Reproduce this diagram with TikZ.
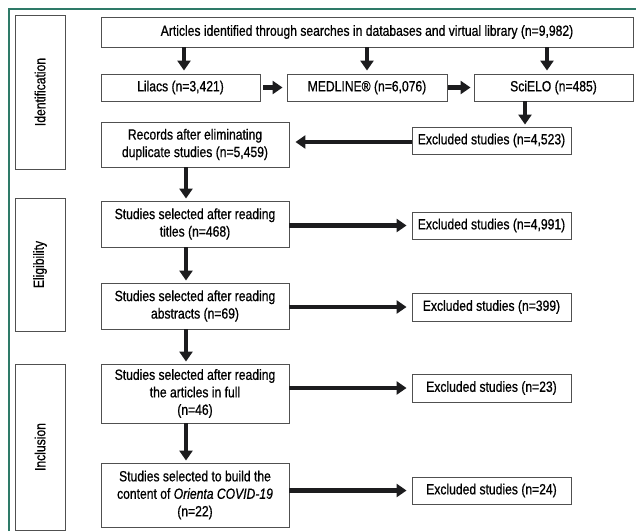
\documentclass[tikz,border=0pt]{standalone}
\usepackage{fontspec}
\setmainfont[FakeStretch=0.82, FakeBold=0.7]{Liberation Sans}
\usepackage{tikz}
\usetikzlibrary{arrows.meta, positioning, calc}
\definecolor{framegreen}{RGB}{46,122,104}
\definecolor{boxgray}{RGB}{80,80,80}
\definecolor{arrowblack}{RGB}{28,28,30}

\begin{document}
\begin{tikzpicture}[x=1pt, y=-1pt,
    box/.style={draw=boxgray, line width=0.9pt, fill=white, inner sep=2pt,
      align=center, font=\fontsize{14.8}{17.5}\selectfont},
    stage/.style={box, minimum width=50pt, rotate=90},
    arr/.style={draw=arrowblack, line width=4.5pt,
      -{Triangle[length=10pt, width=13pt]}},
  ]
\useasboundingbox (0,0) rectangle (636,531);
%frame
\draw[framegreen, line width=1.6pt] (9,531) -- (9,9) -- (636,9);

%stages
\node[stage, minimum width=154pt, minimum height=50pt] (id) at (40,92) {Identification};
\node[stage, minimum width=133pt, minimum height=50pt] (el) at (40,264.5) {Eligibility};
\node[stage, minimum width=166pt, minimum height=50pt] (inc) at (40,447) {Inclusion};

%identification
\node[box, minimum width=532pt, minimum height=30pt] (top) at (367,32)
  {Articles identified through searches in databases and virtual library (n=9,982)};
\node[box, minimum width=159pt, minimum height=27pt] (lil) at (180.5,87.5) {Lilacs (n=3,421)};
\node[box, minimum width=160pt, minimum height=27pt] (med) at (367,87.5) {MEDLINE® (n=6,076)};
\node[box, minimum width=159pt, minimum height=27pt] (sci) at (553.5,87.5) {SciELO (n=485)};
\node[box, minimum width=188pt, minimum height=45pt] (rec) at (195,144.5)
  {Records after eliminating\\duplicate studies (n=5,459)};
\node[box, minimum width=159pt, minimum height=27pt] (ex1) at (491.5,140.5) {Excluded studies (n=4,523)};

%eligibility
\node[box, minimum width=188pt, minimum height=46pt] (tit) at (195,224)
  {Studies selected after reading\\titles (n=468)};
\node[box, minimum width=159pt, minimum height=27pt] (ex2) at (491.5,225.5) {Excluded studies (n=4,991)};
\node[box, minimum width=188pt, minimum height=46pt] (abs) at (195,306)
  {Studies selected after reading\\abstracts (n=69)};
\node[box, minimum width=159pt, minimum height=28pt] (ex3) at (491.5,307) {Excluded studies (n=399)};

%inclusion
\node[box, minimum width=188pt, minimum height=59pt] (ful) at (195,393.5)
  {Studies selected after reading\\the articles in full\\(n=46)};
\node[box, minimum width=159pt, minimum height=28pt] (ex4) at (491.5,388) {Excluded studies (n=23)};
\node[box, minimum width=188pt, minimum height=64pt] (fin) at (195,495)
  {Studies selected to build the\\content of \textit{Orienta COVID-19}\\(n=22)};
\node[box, minimum width=159pt, minimum height=27pt] (ex5) at (491.5,490.5) {Excluded studies (n=24)};

%arrows
\draw[arr, shorten >=3pt] ([xshift=3.5pt]top.south -| lil.north) -- ([xshift=3.5pt]lil.north);
\draw[arr, shorten >=3pt] (top.south -| med.north) -- (med.north);
\draw[arr, shorten >=3pt] ([xshift=-6.5pt]top.south -| sci.north) -- ([xshift=-6.5pt]sci.north);
\draw[arr, shorten <=3pt, shorten >=4pt] (lil.east) -- (med.west);
\draw[arr, shorten <=1pt, shorten >=3pt] (med.east) -- (sci.west);
\draw[arr, shorten >=2pt] ([xshift=-28.5pt]sci.south) -- ([xshift=-28.5pt]sci.south |- ex1.north);
\draw[arr, shorten >=6pt] (ex1.west |- 0,142) -- (rec.east |- 0,142);
\draw[arr, shorten >=2pt] ([xshift=-9pt]rec.south) -- ([xshift=-9pt]tit.north);
\draw[arr, shorten >=2pt] ([xshift=-9pt]tit.south) -- ([xshift=-9pt]abs.north);
\draw[arr, shorten >=2pt] ([xshift=-9pt]abs.south) -- ([xshift=-9pt]ful.north);
\draw[arr, shorten >=2pt] ([xshift=-9pt]ful.south) -- ([xshift=-9pt]fin.north);
\draw[arr, shorten >=5pt] (tit.east |- ex2.west) -- (ex2.west);
\draw[arr, shorten >=5pt] (abs.east |- ex3.west) -- (ex3.west);
\draw[arr, shorten >=5pt] (ful.east |- ex4.west) -- (ex4.west);
\draw[arr, shorten >=5pt] (fin.east |- ex5.west) -- (ex5.west);
\end{tikzpicture}
\end{document}
